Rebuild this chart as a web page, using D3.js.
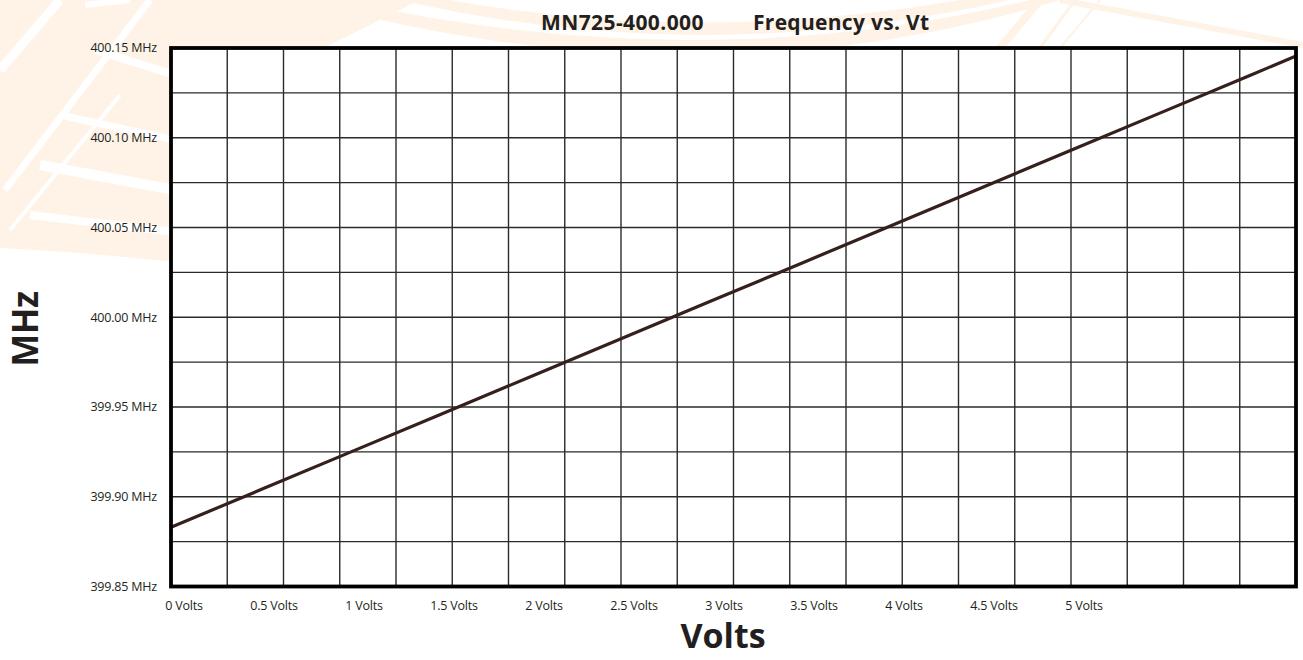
<html lang="en">
<head>
    <title>MN725-400.000 Frequency vs. Vt</title>
    <script src="https://d3js.org/d3.v7.min.js" charset="utf-8"></script>
    <style>
        body {
            margin: 0;
            background: #fff;
            font-family: "Open Sans", "Noto Sans", sans-serif;
        }
        .tick-label {
            font-size: 12.5px;
            letter-spacing: -0.2px;
            fill: #231f20;
        }
    </style>
</head>
<body>
<script>
    // volts along the x axis and the frequency
    var volts = [0, 0.5, 1, 1.5, 2, 2.5, 3, 3.5, 4, 4.5, 5, 5.5, 6, 6.25];
    var freqMHz = [399.883, 399.904, 399.925, 399.946, 399.967, 399.988, 400.009,
                   400.030, 400.051, 400.072, 400.093, 400.114, 400.135, 400.1455];

    // axis labels
    var xLabelValues = [0, 0.5, 1, 1.5, 2, 2.5, 3, 3.5, 4, 4.5, 5];
    var yLabelValues = [399.85, 399.90, 399.95, 400.00, 400.05, 400.10, 400.15];
    var yGridValues = [399.85, 399.875, 399.90, 399.925, 399.95, 399.975, 400.00,
                       400.025, 400.05, 400.075, 400.10, 400.125, 400.15];
    var gridColumns = 20;

    var width = 1303;
    var height = 660;
    // plot box (window.top is read-only, so no plain "top" here)
    var plotLeft = 171, plotRight = 1296, plotTop = 48, plotBottom = 586.5;

    var svg = d3.select("body")
        .append("svg")
        .attr("width", width)
        .attr("height", height);

    // faint watermark behind the chart
    var wm = svg.append("g").attr("fill", "#fef3e6").attr("stroke", "none");
    wm.append("path")
        .attr("d", "M0,0 L420,0 Q300,60 175,120 L175,262 Q80,252 0,248 Z");
    wm.append("path")
        .attr("d", "M400,0 Q700,70 1010,0 L960,0 Q700,45 450,0 Z");
    wm.append("path")
        .attr("d", "M300,0 Q700,110 1060,0 L1030,0 Q700,80 340,0 Z");
    var ws = svg.append("g").attr("stroke", "#fff").attr("fill", "none");
    ws.append("path").attr("d", "M0,70 L60,0").attr("stroke-width", 9);
    ws.append("path").attr("d", "M5,190 L150,0").attr("stroke-width", 7);
    ws.append("path").attr("d", "M10,230 L120,95").attr("stroke-width", 4);
    ws.append("path").attr("d", "M60,115 L175,140").attr("stroke-width", 7);
    ws.append("path").attr("d", "M40,165 L175,190").attr("stroke-width", 10);
    ws.append("path").attr("d", "M30,215 L175,232").attr("stroke-width", 8);
    ws.append("path").attr("d", "M95,50 L175,75").attr("stroke-width", 8);
    ws.append("path").attr("d", "M85,5 L130,0").attr("stroke-width", 6);
    var wr = svg.append("g").attr("stroke", "#fef3e6").attr("fill", "none");
    wr.append("path").attr("d", "M1000,48 L1040,0").attr("stroke-width", 8);
    wr.append("path").attr("d", "M1040,48 L1075,0").attr("stroke-width", 3);
    wr.append("path").attr("d", "M1060,48 L1100,0").attr("stroke-width", 2);
    wr.append("path").attr("d", "M1060,0 L1303,45").attr("stroke-width", 6);

    var x = d3.scaleLinear().domain([0, 6.25]).range([plotLeft, plotRight]);
    var y = d3.scaleLinear().domain([399.85, 400.15]).range([plotBottom, plotTop]);
    var gx = d3.scaleLinear().domain([0, gridColumns]).range([plotLeft, plotRight]);

    var plot = svg.append("g");

    plot.append("rect")
        .attr("x", plotLeft)
        .attr("y", plotTop)
        .attr("width", plotRight - plotLeft)
        .attr("height", plotBottom - plotTop)
        .attr("fill", "#fff");

    plot.selectAll("line.vgrid")
        .data(d3.range(1, gridColumns))
        .enter()
        .append("line")
        .attr("class", "vgrid")
        .attr("x1", function(d) { return gx(d); })
        .attr("x2", function(d) { return gx(d); })
        .attr("y1", plotTop)
        .attr("y2", plotBottom)
        .attr("stroke", "#2b2b2b")
        .attr("stroke-width", 1.4);

    plot.selectAll("line.hgrid")
        .data(yGridValues)
        .enter()
        .append("line")
        .attr("class", "hgrid")
        .attr("x1", plotLeft)
        .attr("x2", plotRight)
        .attr("y1", function(d) { return y(d); })
        .attr("y2", function(d) { return y(d); })
        .attr("stroke", "#2b2b2b")
        .attr("stroke-width", 1.4);

    var line = d3.line()
        .x(function(d, i) { return x(volts[i]); })
        .y(function(d) { return y(d); });

    plot.append("path")
        .datum(freqMHz)
        .attr("d", line)
        .attr("fill", "none")
        .attr("stroke", "#35201c")
        .attr("stroke-width", 3.2);

    plot.append("rect")
        .attr("x", plotLeft)
        .attr("y", plotTop)
        .attr("width", plotRight - plotLeft)
        .attr("height", plotBottom - plotTop)
        .attr("fill", "none")
        .attr("stroke", "#000")
        .attr("stroke-width", 3.8);

    // y tick labels
    svg.selectAll("text.ylab")
        .data(yLabelValues)
        .enter()
        .append("text")
        .attr("class", "tick-label ylab")
        .attr("x", 157)
        .attr("y", function(d) { return y(d); })
        .attr("dy", "0.35em")
        .attr("text-anchor", "end")
        .text(function(d) { return d.toFixed(2) + " MHz"; });

    // x tick labels
    svg.selectAll("text.xlab")
        .data(xLabelValues)
        .enter()
        .append("text")
        .attr("class", "tick-label xlab")
        .attr("x", function(d) { return x(d) + 13; })
        .attr("y", 610)
        .attr("text-anchor", "middle")
        .text(function(d) { return d + " Volts"; });

    // titles
    svg.append("text")
        .attr("x", 541)
        .attr("y", 30)
        .attr("font-size", 21)
        .attr("font-weight", "bold")
        .attr("letter-spacing", "0.4px")
        .attr("fill", "#231f20")
        .text("MN725-400.000");

    svg.append("text")
        .attr("x", 753)
        .attr("y", 30)
        .attr("font-size", 21)
        .attr("font-weight", "bold")
        .attr("letter-spacing", "0.3px")
        .attr("fill", "#231f20")
        .text("Frequency vs. Vt");

    svg.append("text")
        .attr("x", 723)
        .attr("y", 648)
        .attr("text-anchor", "middle")
        .attr("font-size", 34)
        .attr("font-weight", "bold")
        .attr("fill", "#231f20")
        .text("Volts");

    svg.append("text")
        .attr("transform", "translate(38,329) rotate(-90)")
        .attr("text-anchor", "middle")
        .attr("font-size", 35)
        .attr("font-weight", "bold")
        .attr("letter-spacing", "-0.5px")
        .attr("fill", "#231f20")
        .text("MHz");
</script>
</body>
</html>
